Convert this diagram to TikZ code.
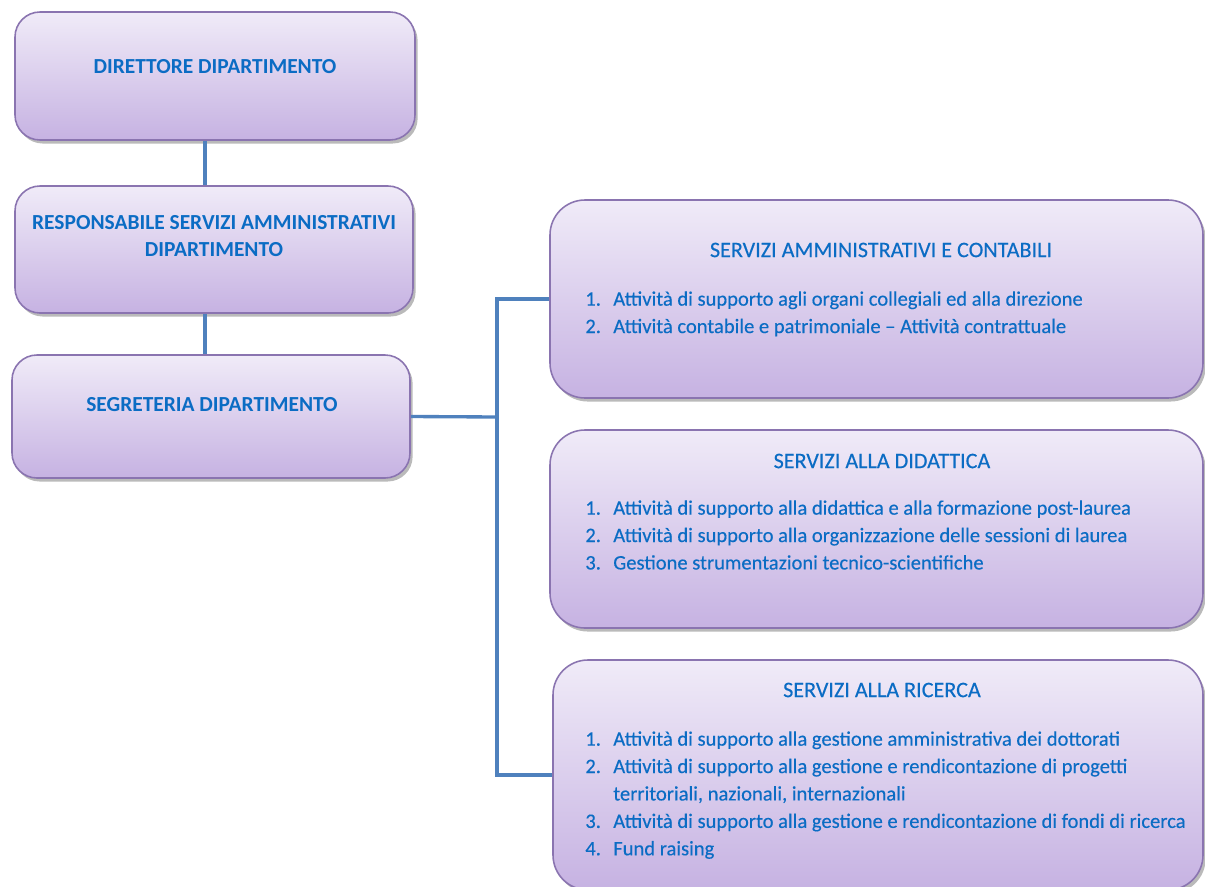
\documentclass[tikz,border=0pt]{standalone}
\usepackage{fontspec}
\setmainfont{Carlito}
\newfontfamily\vocifont{Carlito}[UprightFeatures={FakeBold=0.3}]
\usepackage{tikz}
\usetikzlibrary{positioning, shadows}
\usepackage{xcolor}
\definecolor{txtblue}{HTML}{0B6CC4}
\definecolor{linkblue}{HTML}{4F81BD}
\definecolor{boxedge}{HTML}{8A74B0}
\definecolor{boxtop}{HTML}{F0EBF8}
\definecolor{boxbot}{HTML}{C6B2E2}

\begin{document}
\begin{tikzpicture}[
	ufficio/.style={draw=boxedge, line width=0.9pt, rounded corners=0.5cm, top color=boxtop, bottom color=boxbot,
		drop shadow={shadow xshift=1.5pt, shadow yshift=-2pt, opacity=0.45, fill=black!60}},
	titolo/.style={text=txtblue, font=\fontsize{12.2}{15}\selectfont\bfseries, align=center, inner sep=0pt},
	servtitolo/.style={text=txtblue, font=\vocifont\fontsize{12.6}{15}\selectfont, align=center, inner sep=0pt},
	voci/.style={text=txtblue, font=\vocifont\fontsize{11.7}{15.6}\selectfont, align=left, anchor=north west, inner sep=0pt},
	link/.style={draw=linkblue, line width=1.9pt}
	]
	\useasboundingbox (0,0) rectangle (24.1,-17.72);

	\draw (4.3cm,-1.52cm) node[ufficio, minimum width=8cm, minimum height=2.56cm] (dir) {}
	(4.28cm,-4.99cm) node[ufficio, minimum width=7.96cm, minimum height=2.54cm] (resp) {}
	(4.22cm,-8.33cm) node[ufficio, minimum width=7.96cm, minimum height=2.46cm] (segr) {}
	(17.53cm,-5.98cm) node[ufficio, rounded corners=0.7cm, minimum width=13.06cm, minimum height=3.96cm] (amm) {}
	(17.53cm,-10.58cm) node[ufficio, rounded corners=0.7cm, minimum width=13.06cm, minimum height=3.96cm] (did) {}
	(17.56cm,-15.5cm) node[ufficio, rounded corners=0.7cm, minimum width=13.0cm, minimum height=4.6cm] (ric) {};

	% titoli
	\draw (4.3cm,-1.34cm) node[titolo] (tdir) {DIRETTORE DIPARTIMENTO}
	(4.28cm,-4.72cm) node[titolo] (tresp) {RESPONSABILE SERVIZI AMMINISTRATIVI\\DIPARTIMENTO}
	(4.24cm,-8.1cm) node[titolo] (tsegr) {SEGRETERIA DIPARTIMENTO}
	(17.62cm,-5.0cm) node[servtitolo] (tamm) {SERVIZI AMMINISTRATIVI E CONTABILI}
	(17.64cm,-9.22cm) node[servtitolo] (tdid) {SERVIZI ALLA DIDATTICA}
	(17.64cm,-13.8cm) node[servtitolo] (tric) {SERVIZI ALLA RICERCA};

	% attivita
	\draw (11.7cm,-5.82cm) node[voci] (vamm) {1.\hspace{0.6em}Attività di supporto agli organi collegiali ed alla direzione\\
		2.\hspace{0.6em}Attività contabile e patrimoniale – Attività contrattuale}
	(11.7cm,-10.0cm) node[voci] (vdid) {1.\hspace{0.6em}Attività di supporto alla didattica e alla formazione post-laurea\\
		2.\hspace{0.6em}Attività di supporto alla organizzazione delle sessioni di laurea\\
		3.\hspace{0.6em}Gestione strumentazioni tecnico-scientifiche}
	(11.7cm,-14.62cm) node[voci] (vric) {1.\hspace{0.6em}Attività di supporto alla gestione amministrativa dei dottorati\\
		2.\hspace{0.6em}Attività di supporto alla gestione e rendicontazione di progetti\\
		\hphantom{2.}\hspace{0.6em}territoriali, nazionali, internazionali\\
		3.\hspace{0.6em}Attività di supporto alla gestione e rendicontazione di fondi di ricerca\\
		4.\hspace{0.6em}Fund raising};

	\coordinate (nodo) at (9.94cm,-8.34cm);

	\draw[link] ([xshift=-2mm]dir.south) -- ([xshift=-2mm]dir.south |- resp.north);
	\draw[link] ([xshift=-2mm]dir.south |- resp.south) -- ([xshift=-2mm]dir.south |- segr.north);
	\draw[link] (segr.east) -- (nodo);
	\draw[link] (nodo) |- (amm.west);
	\draw[link] (nodo) |- (ric.west);
\end{tikzpicture}
\end{document}
